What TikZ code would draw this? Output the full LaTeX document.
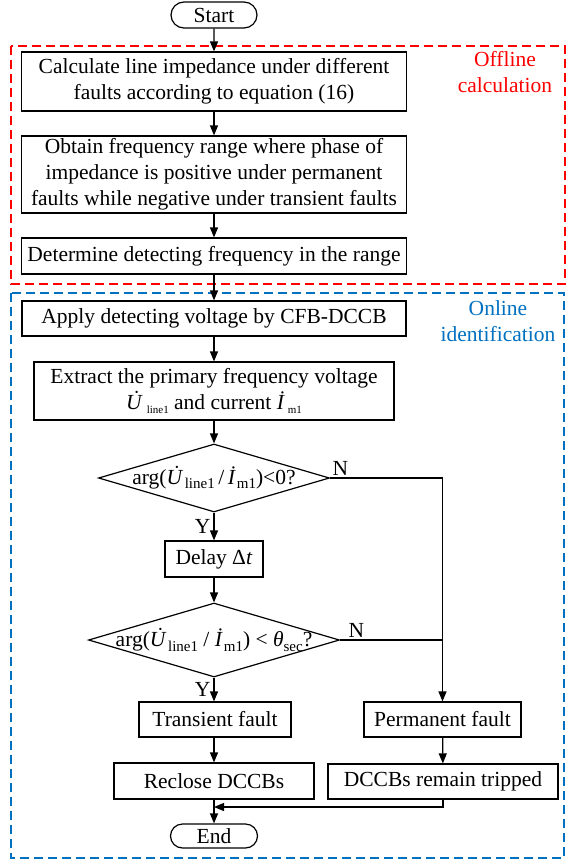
\documentclass[tikz,border=0pt]{standalone}
\usepackage{fontspec}
\setmainfont{Liberation Serif}
\usetikzlibrary{arrows.meta,shapes.geometric,shapes.misc}
\definecolor{oblue}{RGB}{0,112,192}
\newcommand\subtxt[2][11]{\raisebox{-0.45ex}{\fontsize{#1}{#1}\selectfont #2}}
\newcommand\dotU{\ooalign{\textit{U}\cr\hfil\kern0.2em\raisebox{0.2em}{˙}\hfil\cr}}
\begin{document}
\begin{tikzpicture}[x=1pt, y=-1pt, line width=1.2pt,
		font=\fontsize{21.5}{26}\selectfont,
		box/.style={draw, rectangle, inner sep=0pt, align=center},
		term/.style={draw, rounded rectangle, inner sep=0pt, minimum width=86pt, minimum height=26pt},
		cond/.style={draw, diamond, inner ysep=0pt, aspect=3.4},
		arr/.style={-{Triangle[length=10pt,width=8pt]}},
		zone/.style={line width=1.4pt, dash pattern=on 9pt off 5pt}]
	\useasboundingbox (0,0) rectangle (566,860);
	\draw[zone, red] (11,46) rectangle (565,284);
	\draw[zone, oblue] (11,293) rectangle (564,858);
	\node[red, align=center] (offline) at (505,72) {Offline\\calculation};
	\node[oblue, align=center] (online) at (498,321) {Online\\identification};
	\node[term] (start) at (214,15) {Start};
	\node[box, minimum width=385pt, minimum height=59pt] (calc) at (214,81.5) {Calculate line impedance under different\\faults according to equation (16)};
	\node[box, minimum width=385pt, minimum height=77pt] (range) at (214,174.5) {Obtain frequency range where phase of\\impedance is positive under permanent\\faults while negative under transient faults};
	\node[box, minimum width=385pt, minimum height=36pt] (freq) at (214,256) {Determine detecting frequency in the range};
	\node[box, minimum width=384pt, minimum height=35pt] (apply) at (214,318.5) {Apply detecting voltage by CFB-DCCB};
	\node[box, minimum width=360pt, minimum height=58pt] (extract) at (214,391) {Extract the primary frequency voltage\\\dotU\kern4pt\subtxt{line1} and current \textit{\.I}\kern3pt\subtxt{m1}};
	\node[cond, inner xsep=-9pt, minimum width=231pt, minimum height=68pt] (arg1) at (214,478) {arg(\dotU\kern1.5pt\subtxt[15]{line1}\,/\,\textit{\.I}\kern1pt\subtxt[15]{m1})<0?};
	\node[box, minimum width=98pt, minimum height=36pt] (delay) at (214,559) {Delay Δ\textit{t}};
	\node[cond, inner xsep=-17pt, minimum width=251pt, minimum height=74pt] (arg2) at (214,640) {arg(\dotU\kern1.5pt\subtxt[15]{line1} / \textit{\.I}\kern1pt\subtxt[15]{m1}) < \textit{θ}\subtxt[15]{sec}?};
	\node[box, minimum width=152pt, minimum height=35pt] (trans) at (215,719.5) {Transient fault};
	\node[box, minimum width=157pt, minimum height=35pt] (perm) at (442.5,719.5) {Permanent fault};
	\node[box, minimum width=200pt, minimum height=36pt] (reclose) at (214,781) {Reclose DCCBs};
	\node[box, minimum width=230pt, minimum height=35pt] (tripped) at (443,781.5) {DCCBs remain tripped};
	\node[term, minimum width=87pt, minimum height=24pt] (end) at (214,836) {End};
	\coordinate (merge) at (214,807);
	\draw[arr] (start) -- (calc);
	\draw[arr] (calc) -- (range);
	\draw[arr] (range) -- (freq);
	\draw[arr] (freq) -- (apply);
	\draw[arr] (apply) -- (extract);
	\draw[arr] (extract) -- (arg1);
	\draw[arr] (arg1) -- node[left, inner sep=3pt] {Y} (delay);
	\draw[arr] (delay) -- (arg2);
	\draw[arr] (arg2) -- node[left, inner sep=3pt] {Y} (trans.north -| arg2.south);
	\draw[arr] (trans.south -| reclose.north) -- (reclose);
	\draw[arr] (reclose) -- (end);
	\draw[arr] (arg1.east) node[anchor=south west, inner sep=2pt] {N} -| (perm.north);
	\draw (arg2.east) node[anchor=south west, inner sep=2pt, xshift=6pt] {N} -- (arg2.east -| perm.north);
	\draw[arr] (perm) -- (tripped);
	\draw[arr] (tripped.south) |- (merge);
\end{tikzpicture}
\end{document}
